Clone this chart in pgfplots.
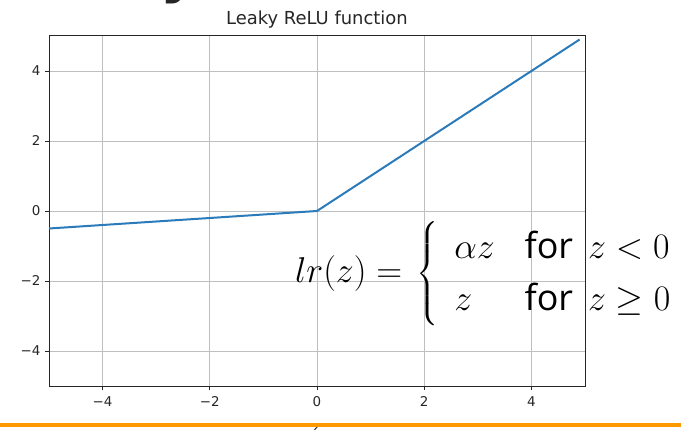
\RequirePackage{fix-cm}
\documentclass[border=0pt]{standalone}
\usepackage{amsmath}
\usepackage[no-math]{fontspec}
\usepackage{pgfplots}
\pgfplotsset{compat=1.18}
\setmainfont{DejaVu Sans}
\newfontfamily\forfont{Open Sans}
\definecolor{mplblue}{HTML}{2B7BBA}
\definecolor{barorange}{HTML}{FF9900}
\definecolor{txt}{HTML}{262626}
\begin{document}
\begin{tikzpicture}
\useasboundingbox (0,0) rectangle (681bp,430bp);
\node[anchor=base west, inner sep=0, font=\fontsize{58}{58}\selectfont\bfseries, text=txt] at (160bp,438bp) {y};
\begin{axis}[
  at={(49bp,44bp)}, anchor=south west,
  width=536bp, height=350bp, scale only axis,
  xmin=-5, xmax=5, ymin=-5, ymax=5,
  xtick={-4,-2,0,2,4}, ytick={-4,-2,0,2,4},
  xticklabels={−4,−2,0,2,4}, yticklabels={−4,−2,0,2,4},
  xtick pos=left, ytick pos=left,
  grid=major,
  grid style={color=black!25, line width=0.9bp},
  axis line style={line width=1bp, color=txt},
  tick style={color=txt, line width=0.9bp},
  tick align=outside, major tick length=4bp,
  tick label style={font=\fontsize{13.5}{13.5}\selectfont, text=txt},
  xticklabel style={yshift=-3bp},
  yticklabel style={xshift=-1bp},
]
\addplot[color=mplblue, line width=2bp] coordinates {
  (-5,-0.5) (-4,-0.4) (-3,-0.3) (-2,-0.2) (-1,-0.1) (0,0)
  (1,1) (2,2) (3,3) (4,4) (4.9,4.9)
};
\end{axis}
\node[font=\fontsize{18}{18}\selectfont, text=txt] at (317bp,410bp) {Leaky ReLU function};
\node[anchor=north, inner sep=0, font=\fontsize{13.5}{13.5}\selectfont, text=txt] at (317bp,6bp) {z};
\fill[barorange] (0,3bp) rectangle (681bp,6.5bp);
\node[anchor=base west, inner sep=0, font=\fontsize{36}{43}\selectfont] at (295bp,147bp)
  {$lr(z) = \hspace{4pt}\begin{cases}\hspace{16pt}\alpha z &\hspace{-6pt}\text{\forfont for}\hspace{15pt}z<0\\ \hspace{16pt}z &\hspace{-6pt}\text{\forfont for}\hspace{15pt}z\geq 0\end{cases}$};
\end{tikzpicture}
\end{document}
